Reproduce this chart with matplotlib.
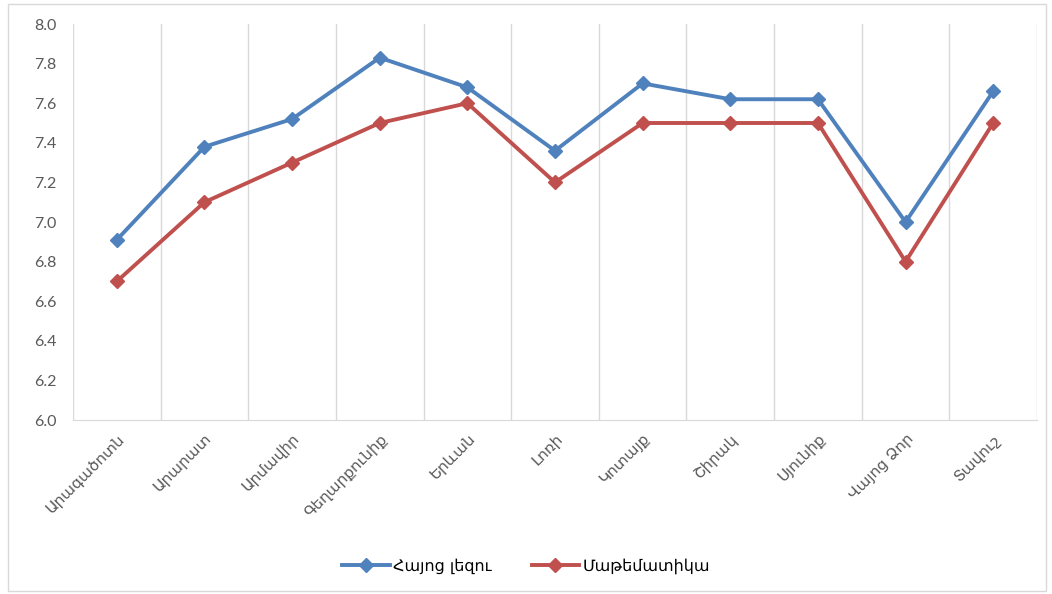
import matplotlib.pyplot as plt
from matplotlib.patches import Rectangle

regions = ["Արագածոտն", "Արարատ", "Արմավիր", "Գեղարքունիք", "Երևան", "Լոռի",
           "Կոտայք", "Շիրակ", "Սյունիք", "Վայոց Ձոր", "Տավուշ"]
armenian = [6.91, 7.38, 7.52, 7.83, 7.68, 7.36, 7.70, 7.62, 7.62, 7.00, 7.66]
math = [6.70, 7.10, 7.30, 7.50, 7.60, 7.20, 7.50, 7.50, 7.50, 6.80, 7.50]

plt.rcParams['font.family'] = ['Lato', 'DejaVu Sans']

fig = plt.figure(figsize=(10.52, 5.94), dpi=100)
ax = fig.add_axes([73 / 1052, 1 - 420 / 594, (1037 - 73) / 1052, (420 - 24) / 594])

x = list(range(len(regions)))
ax.plot(x, armenian, color='#4F81BD', lw=2.8, marker='D', ms=7, label='Հայոց լեզու')
ax.plot(x, math, color='#C0504D', lw=2.8, marker='D', ms=7, label='Մաթեմատիկա')

ax.set_ylim(6.0, 8.0)
ax.set_xlim(-0.5, len(regions) - 0.5)
ax.set_yticks([6.0 + 0.2 * i for i in range(11)])
ax.set_yticklabels([f"{6.0 + 0.2 * i:.1f}" for i in range(11)])
ax.set_xticks(x)
ax.set_xticklabels(regions, rotation=45, ha='right', rotation_mode='anchor',
                   family=['DejaVu Sans'], fontsize=11)
ax.set_xticks([i - 0.5 for i in range(len(regions) + 1)], minor=True)
ax.grid(True, which='minor', axis='x', color='#D9D9D9', lw=1)
ax.tick_params(axis='both', which='both', length=0, colors='#595959')
ax.tick_params(axis='y', labelsize=11.5, pad=12)
ax.tick_params(axis='x', pad=8)
for s in ['top', 'right', 'left']:
    ax.spines[s].set_visible(False)
ax.spines['bottom'].set_color('#D9D9D9')

fig.legend(loc='center', bbox_to_anchor=(0.5, 1 - 566 / 594), ncol=2, frameon=False,
           prop={'family': ['DejaVu Sans'], 'size': 11.5}, handlelength=3,
           columnspacing=2.5, handletextpad=0.2)

fig.patches.append(Rectangle((8 / 1052, 3 / 594), 1038 / 1052, 587 / 594,
                             transform=fig.transFigure, fill=False,
                             edgecolor='#D9D9D9', lw=1))

fig.savefig('out.png', dpi=100)
